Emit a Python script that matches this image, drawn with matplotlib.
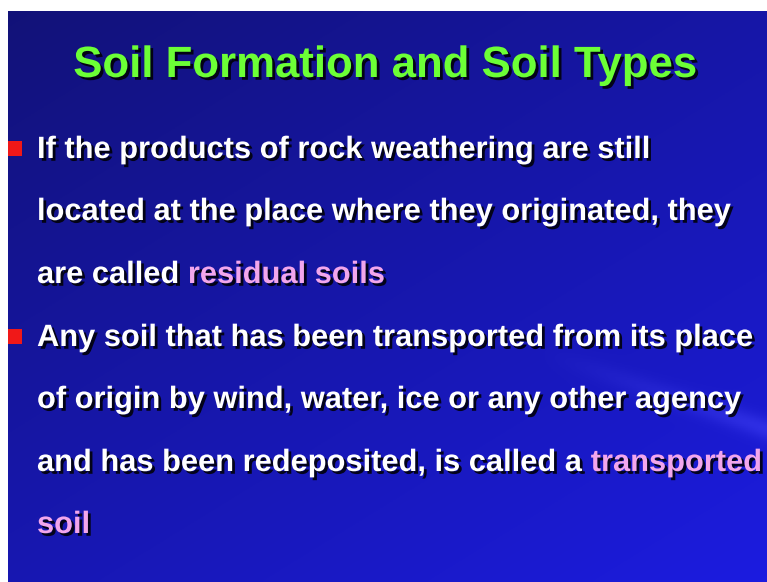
import numpy as np
import matplotlib
matplotlib.use("Agg")
from matplotlib import pyplot as plt
from matplotlib import patheffects as pe
from matplotlib.patches import Rectangle

# slide content
title = "Soil Formation and Soil Types"
lines = [
    [("If the products of rock weathering are still", "w")],
    [("located at the place where they originated, they", "w")],
    [("are called ", "w"), ("residual soils", "p")],
    [("Any soil that has been transported from its place", "w")],
    [("of origin by wind, water, ice or any other agency", "w")],
    [("and has been redeposited, is called a ", "w"), ("transported", "p")],
    [("soil", "p")],
]
bullet_lines = [0, 3]

colors = {"w": "white", "p": "#f2a6ec"}
green = "#6cff36"

W, H = 767, 582
fig = plt.figure(figsize=(W / 100, H / 100), dpi=100, facecolor="white")
ax = fig.add_axes([0, 0, 1, 1])
ax.set_xlim(0, W)
ax.set_ylim(H, 0)
ax.axis("off")

# blue background, darker top-left, brighter bottom-right
left, top = 8, 11
yy, xx = np.mgrid[0:1:300j, 0:1:400j]
t = np.clip(0.55 * yy + 0.45 * xx, 0, 1)
c0 = np.array([0.07, 0.07, 0.47])
c1 = np.array([0.11, 0.11, 0.88])
img = c0 + (c1 - c0) * t[..., None]
# faint diagonal streak lower right
d = np.abs((yy - 0.62) - 0.45 * (xx - 0.75))
streak = np.exp(-(d / 0.02) ** 2) * np.clip((xx - 0.7) / 0.3, 0, 1)
img = np.clip(img + 0.08 * streak[..., None], 0, 1)
ax.imshow(img, extent=(left, W, H, top), aspect="auto", zorder=0)

shadow = [pe.withSimplePatchShadow(offset=(2, -2), shadow_rgbFace="black", alpha=0.85)]

ax.text(385, 77, title, color=green, fontsize=31.5, fontweight="bold",
        family="Liberation Sans", ha="center", va="baseline",
        path_effects=shadow, zorder=3)

x0 = 37
baselines = [158, 220, 283, 346, 408, 471, 533]
for i, segs in enumerate(lines):
    prev = None
    for txt, c in segs:
        kw = dict(color=colors[c], fontsize=22.2, fontweight="bold",
                  family="Liberation Sans", path_effects=shadow, zorder=3)
        if prev is None:
            prev = ax.text(x0, baselines[i], txt, ha="left", va="baseline", **kw)
        else:
            prev = ax.annotate(txt, xy=(1, 0), xycoords=prev, ha="left",
                               va="bottom", **kw)

for i in bullet_lines:
    ax.add_patch(Rectangle((8, baselines[i] - 17), 14, 15,
                           facecolor="#f01818", edgecolor="none", zorder=3))

fig.savefig("out.png", dpi=100, facecolor="white")
